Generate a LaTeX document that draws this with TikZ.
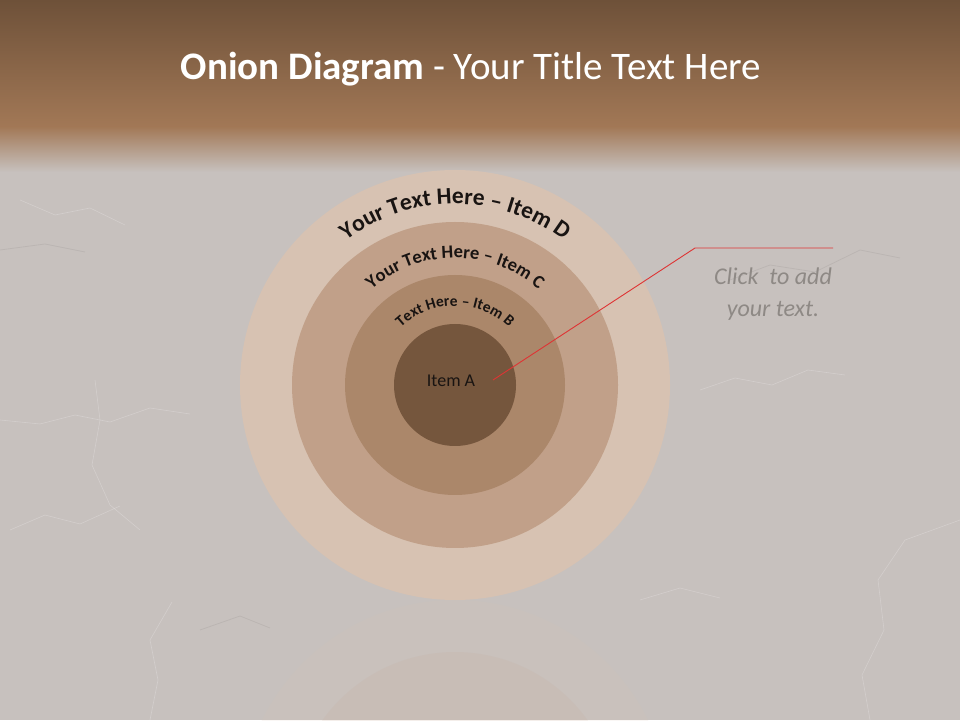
\documentclass[tikz,border=0pt]{standalone}
\usepackage{fontspec}
\setmainfont{Carlito}
\usetikzlibrary{decorations.text}
\definecolor{bgGrey}{RGB}{199,193,190}
\definecolor{titleTop}{RGB}{110,81,57}
\definecolor{titleBot}{RGB}{162,120,86}
\definecolor{colD}{RGB}{215,194,178}
\definecolor{colC}{RGB}{193,160,137}
\definecolor{colB}{RGB}{171,135,106}
\definecolor{colA}{RGB}{117,86,61}
\definecolor{textDark}{RGB}{25,20,18}
\definecolor{clickGrey}{RGB}{142,137,133}
\definecolor{lineRed}{RGB}{222,52,52}
\tikzset{
  ring/.style={circle, inner sep=0pt, draw=none},
  crack/.style={draw=white, opacity=0.22, line width=0.6pt},
  darkcrack/.style={draw=black, opacity=0.06, line width=0.8pt},
  redline/.style={draw=lineRed, line width=0.9pt},
  clicktext/.style={font=\fontsize{24}{30}\itshape\selectfont, text=clickGrey, anchor=base, inner sep=0pt},
  curved/.style={decorate, decoration={text along path, text align=center, text color=textDark, text={#1}}}
}
\begin{document}
\begin{tikzpicture}[x=1pt,y=1pt]
\useasboundingbox (0,0) rectangle (960,720);
% background stone
\fill[bgGrey] (0,0) rectangle (960,720);
\draw[crack] (0,300) -- (40,296) -- (75,305) -- (110,298) -- (150,312) -- (190,306);
\draw[crack] (95,340) -- (100,300) -- (92,255) -- (110,215) -- (140,190);
\draw[crack] (10,190) -- (45,205) -- (80,196) -- (120,214);
\draw[crack] (150,0) -- (158,40) -- (150,80) -- (172,118);
\draw[crack] (870,0) -- (862,45) -- (884,90) -- (878,140) -- (905,180) -- (960,200);
\draw[crack] (700,330) -- (735,342) -- (772,335) -- (808,350) -- (845,345);
\draw[crack] (860,720) -- (875,680) -- (905,650) -- (918,600) -- (940,570);
\draw[crack] (640,120) -- (680,132) -- (720,122);
\draw[crack] (20,520) -- (55,505) -- (90,512) -- (125,495);
\draw[darkcrack] (730,440) -- (770,455) -- (815,448) -- (860,470) -- (900,462);
\draw[darkcrack] (0,470) -- (45,476) -- (85,468);
\draw[darkcrack] (200,90) -- (240,104) -- (270,92);
% title band
\shade[top color=titleTop, bottom color=titleBot] (0,593) rectangle (960,720);
\shade[top color=titleBot, bottom color=bgGrey] (0,548) rectangle (960,593.5);
\node[anchor=base, text=white, inner sep=0pt, font=\fontsize{39}{44}\selectfont] (title) at (471,640)
  {\textbf{Onion Diagram} - Your Title Text Here};
% reflection
\begin{scope}
  \clip (0,0) rectangle (960,120);
  \fill[colD, opacity=0.13] (455,-95) circle[radius=215pt];
  \fill[colC, opacity=0.10] (455,-95) circle[radius=163pt];
\end{scope}
% onion rings
\node[ring, fill=colD, minimum size=430pt] (D) at (455,335) {};
\node[ring, fill=colC, minimum size=326pt] (C) at (455,335) {};
\node[ring, fill=colB, minimum size=220pt] (B) at (455,335) {};
\node[ring, fill=colA, minimum size=122pt] (A) at (455,335) {};
\node[text=textDark, font=\fontsize{18}{20}\selectfont, anchor=base, inner sep=0pt] (labelA) at (451,333) {Item A};
% curved labels
\path[curved={|\fontsize{23.5}{24}\bfseries\selectfont|Your Text Here – Item D}] (D.center) ++(170:181pt) arc[start angle=170, end angle=10, radius=181pt];
\path[curved={|\fontsize{18.5}{19}\bfseries\selectfont|Your Text Here – Item C}] (C.center) ++(170:127pt) arc[start angle=170, end angle=10, radius=127pt];
\path[curved={|\fontsize{15.5}{16}\bfseries\selectfont|Text Here – Item B}] (B.center) ++(170:79pt) arc[start angle=170, end angle=10, radius=79pt];
% callout
\coordinate (tip) at (493,340);
\coordinate (corner) at (695,472);
\coordinate (lineEnd) at (833,472);
\draw[redline] (tip) -- (corner) -- (lineEnd);
\node[clicktext] (click1) at (773,435) {Click\ \ to add};
\node[clicktext] (click2) at (773,403) {your text.};
\end{tikzpicture}
\end{document}
